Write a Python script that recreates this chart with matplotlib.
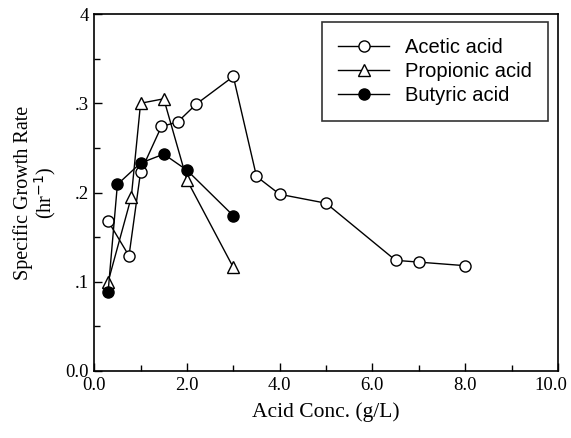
import matplotlib.pyplot as plt
from matplotlib.ticker import MultipleLocator
from matplotlib.transforms import ScaledTranslation

# Data
acetic_x = [0.3, 0.75, 1.0, 1.45, 1.8, 2.2, 3.0, 3.5, 4.0, 5.0, 6.5, 7.0, 8.0]
acetic_y = [0.168, 0.129, 0.223, 0.274, 0.279, 0.299, 0.330, 0.218, 0.198, 0.188, 0.124, 0.122, 0.118]

propionic_x = [0.3, 0.8, 1.0, 1.5, 2.0, 3.0]
propionic_y = [0.100, 0.195, 0.300, 0.305, 0.214, 0.116]

butyric_x = [0.3, 0.5, 1.0, 1.5, 2.0, 3.0]
butyric_y = [0.089, 0.209, 0.233, 0.243, 0.225, 0.174]

x_ticks = [0, 2, 4, 6, 8, 10]
x_labels = ['0.0', '2.0', '4.0', '6.0', '8.0', '10.0']
y_ticks = [0.0, 0.1, 0.2, 0.3, 0.4]
y_labels = ['0.0', '.1', '.2', '.3', '4']

serif = 'Liberation Serif'
sans = 'Liberation Sans'

fig = plt.figure(figsize=(5.71, 4.38), dpi=100)
ax = fig.add_axes([0.165, 0.153, 0.812, 0.815])

ms = 8
ax.plot(acetic_x, acetic_y, color='black', lw=1.0, marker='o', ms=ms,
        mfc='white', mec='black', mew=1.0, label='Acetic acid')
ax.plot(propionic_x, propionic_y, color='black', lw=1.0, marker='^', ms=ms,
        mfc='white', mec='black', mew=1.0, label='Propionic acid')
ax.plot(butyric_x, butyric_y, color='black', lw=1.0, marker='o', ms=ms,
        mfc='black', mec='black', label='Butyric acid')

ax.set_xlim(0, 10)
ax.set_ylim(0, 0.4)
ax.set_xticks(x_ticks)
ax.set_xticklabels(x_labels, fontfamily=serif, fontsize=13.5)
ax.set_yticks(y_ticks)
ax.set_yticklabels(y_labels, fontfamily=serif, fontsize=13.5)
ax.xaxis.set_minor_locator(MultipleLocator(1))
ax.yaxis.set_minor_locator(MultipleLocator(0.05))
ax.tick_params(which='both', direction='in', top=False, right=False)
ax.tick_params(which='major', length=6, width=1, pad=4)
ax.tick_params(which='minor', length=4, width=1)
for s in ax.spines.values():
    s.set_linewidth(1.2)

# last x label sits a bit left of its tick so it stays inside the figure
last = ax.get_xticklabels()[-1]
last.set_transform(last.get_transform() + ScaledTranslation(-5 / 72, 0, fig.dpi_scale_trans))

ax.set_xlabel('Acid Conc. (g/L)', fontfamily=serif, fontsize=15.5, labelpad=6)
ax.set_ylabel('Specific Growth Rate\n(hr$^{-1}$)', fontfamily=serif, fontsize=14.5,
              labelpad=5, linespacing=0.95)

leg = ax.legend(loc='upper left', bbox_to_anchor=(0.492, 0.978), frameon=True,
                fancybox=False, edgecolor='black', prop={'family': sans, 'size': 14.5},
                borderpad=0.8, handlelength=2.5, handletextpad=0.8,
                labelspacing=0.25, borderaxespad=0)
leg.get_frame().set_linewidth(1.2)

fig.savefig('out.png', dpi=100)
